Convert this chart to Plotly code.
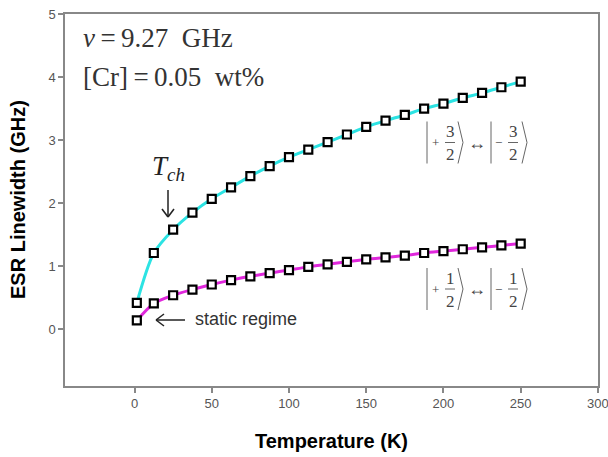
import plotly.graph_objects as go

# ---------------- data ----------------
temperature = [1.5, 12.5, 25, 37.5, 50, 62.5, 75, 87.5, 100, 112.5, 125, 137.5,
               150, 162.5, 175, 187.5, 200, 212.5, 225, 237.5, 250]
width_32 = [0.42, 1.21, 1.58, 1.85, 2.07, 2.25, 2.43, 2.59, 2.73, 2.85, 2.97, 3.09,
            3.21, 3.31, 3.40, 3.50, 3.58, 3.67, 3.75, 3.84, 3.93]
width_12 = [0.14, 0.41, 0.54, 0.63, 0.71, 0.78, 0.84, 0.89, 0.94, 0.99, 1.03, 1.07,
            1.11, 1.14, 1.17, 1.21, 1.24, 1.27, 1.30, 1.33, 1.36]
x_ticks = [0, 50, 100, 150, 200, 250, 300]
y_ticks = [0, 1, 2, 3, 4, 5]
x_title = "Temperature (K)"
y_title = "ESR Linewidth (GHz)"

# page body margin is removed by the post script below
OX, OY = 0, 0
W, H = 608, 457
L, R, T, B = 65, 10, 14, 71
PW, PH = W - L - R, H - T - B


def px(x):
    return (x - OX - L) / PW


def py(y):
    return (H - B - (y - OY)) / PH


fig = go.Figure()
for yv, col in [(width_32, "#2CE3E3"), (width_12, "#E028DC")]:
    fig.add_trace(go.Scatter(
        x=temperature, y=yv, mode="lines+markers",
        line=dict(color=col, width=3, shape="spline", smoothing=0.8),
        marker=dict(symbol="square", size=8, color="white",
                    line=dict(color="black", width=2.2)),
        showlegend=False, cliponaxis=False))

annotations = []
shapes = []
gray = "#444444"

# axis titles
annotations.append(dict(xref="paper", yref="paper", x=px(331), y=py(441),
                        xanchor="center", yanchor="middle", showarrow=False,
                        text="<b>" + x_title + "</b>",
                        font=dict(family="Liberation Sans", size=20, color="black")))
annotations.append(dict(xref="paper", yref="paper", x=px(18), y=py(200),
                        xanchor="center", yanchor="middle", showarrow=False,
                        textangle=-90, text="<b>" + y_title + "</b>",
                        font=dict(family="Liberation Sans", size=20, color="black")))

annotations.append(dict(xref="paper", yref="paper", x=px(81), y=py(38),
                        xanchor="left", yanchor="middle", showarrow=False,
                        text="<i>ν</i>\u2009=\u20099.27\u00a0\u00a0GHz",
                        font=dict(family="Liberation Serif", size=27, color="#333")))
annotations.append(dict(xref="paper", yref="paper", x=px(81), y=py(77),
                        xanchor="left", yanchor="middle", showarrow=False,
                        text="[Cr]\u2009=\u20090.05\u00a0\u00a0wt%",
                        font=dict(family="Liberation Serif", size=27, color="#333")))
annotations.append(dict(xref="paper", yref="paper", x=px(168), y=py(168),
                        xanchor="center", yanchor="middle", showarrow=False,
                        text="<i>T</i><sub><i>ch</i></sub>",
                        font=dict(family="Liberation Serif", size=27, color="#222")))
annotations.append(dict(xref="paper", yref="paper", x=px(193), y=py(319),
                        xanchor="left", yanchor="middle", showarrow=False,
                        text="static regime",
                        font=dict(family="Liberation Sans", size=18, color="#333")))


def line(x0, y0, x1, y1, color="#222", w=1.5):
    shapes.append(dict(type="line", xref="paper", yref="paper",
                       x0=px(x0), y0=py(y0), x1=px(x1), y1=py(y1),
                       line=dict(color=color, width=w)))


# T_ch arrow (down)
line(168, 190, 168, 217)
line(162, 209, 168, 217)
line(174, 209, 168, 217)
# static regime arrow (left)
line(156, 320, 185, 320)
line(164, 314, 156, 320)
line(164, 326, 156, 320)


def ket_label(x0, cy, num):
    g = "#666666"
    hh = 21

    def txt(x, y, s, size=17):
        annotations.append(dict(xref="paper", yref="paper", x=px(x), y=py(y),
                                xanchor="center", yanchor="middle", showarrow=False,
                                text=s, font=dict(family="Liberation Serif",
                                                  size=size, color=gray)))
    # |+ n/2 >
    line(x0, cy - hh, x0, cy + hh, g, 1)
    txt(x0 + 8, cy, "+", 13)
    txt(x0 + 23, cy - 11, num)
    txt(x0 + 23, cy + 12, "2")
    line(x0 + 18, cy, x0 + 28, cy, g, 1)
    line(x0 + 31, cy - hh, x0 + 36, cy, g, 1)
    line(x0 + 36, cy, x0 + 31, cy + hh, g, 1)
    txt(x0 + 50, cy, "↔", 18)
    # |- n/2 >
    line(x0 + 64, cy - hh, x0 + 64, cy + hh, g, 1)
    txt(x0 + 71, cy, "−", 13)
    txt(x0 + 86, cy - 11, num)
    txt(x0 + 86, cy + 12, "2")
    line(x0 + 81, cy, x0 + 91, cy, g, 1)
    line(x0 + 95, cy - hh, x0 + 100, cy, g, 1)
    line(x0 + 100, cy, x0 + 95, cy + hh, g, 1)


ket_label(427, 142.5, "3")
ket_label(427, 289, "1")

axis_common = dict(showline=True, linecolor="#888888", linewidth=1.5, mirror=True,
                   ticks="outside", ticklen=5, tickcolor="#888888", tickwidth=1.5,
                   showgrid=False, zeroline=False, automargin=False,
                   ticklabeloverflow="allow",
                   tickfont=dict(family="Liberation Sans", size=13, color="#555555"))

fig.update_layout(
    width=W, height=H,
    margin=dict(l=L, r=R, t=T, b=B),
    paper_bgcolor="white", plot_bgcolor="white",
    xaxis=dict(axis_common, range=[-45, 300.05], tickvals=x_ticks),
    yaxis=dict(axis_common, range=[-0.9, 5.002], tickvals=y_ticks),
    annotations=annotations,
    shapes=shapes,
)

fig.write_html("out.html", config={"displayModeBar": False},
               post_script="document.body.style.margin='0';document.body.style.padding='0';")
